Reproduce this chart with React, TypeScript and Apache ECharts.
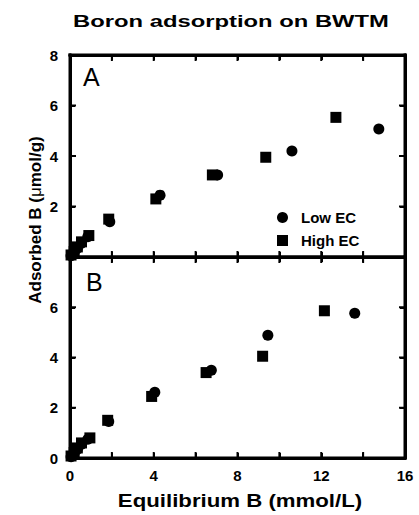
import React, { useEffect, useRef } from "react";
import * as echarts from "echarts";

const xTicks = { min: 0, max: 16, interval: 2 };
const yTicks = { min: 0, max: 8, interval: 2 };

// Panel A
const lowEC_A: [number, number][] = [
  [0.05, 0.05], [0.2, 0.2], [0.35, 0.35], [0.55, 0.55], [0.85, 0.8],
  [1.9, 1.4], [4.3, 2.45], [7.05, 3.25], [10.6, 4.2], [14.75, 5.07],
];
const highEC_A: [number, number][] = [
  [0.05, 0.08], [0.2, 0.22], [0.35, 0.4], [0.55, 0.6], [0.9, 0.85],
  [1.85, 1.5], [4.1, 2.3], [6.8, 3.25], [9.35, 3.95], [12.7, 5.53],
];
// Panel B
const lowEC_B: [number, number][] = [
  [0.05, 0.05], [0.2, 0.2], [0.35, 0.35], [0.55, 0.55], [0.85, 0.75],
  [1.85, 1.45], [4.05, 2.62], [6.75, 3.49], [9.45, 4.89], [13.6, 5.76],
];
const highEC_B: [number, number][] = [
  [0.05, 0.08], [0.2, 0.22], [0.35, 0.4], [0.55, 0.6], [0.95, 0.8],
  [1.8, 1.5], [3.9, 2.45], [6.5, 3.4], [9.2, 4.05], [12.15, 5.86],
];

const FONT = '"Liberation Sans", Arial, Helvetica, sans-serif';

function tickValues(t: { min: number; max: number; interval: number }) {
  const out: number[] = [];
  for (let v = t.min; v <= t.max + 1e-9; v += t.interval) out.push(v);
  return out;
}

// frame + tick rectangles (filled), positioned through the grid's scales
function frameRects(coord: (p: [number, number]) => number[]) {
  const lb = coord([xTicks.min, yTicks.min]);
  const rt = coord([xTicks.max, yTicks.max]);
  const r = (x: number, y: number, w: number, h: number) => ({
    type: "rect", shape: { x, y, width: w, height: h }, style: { fill: "#000" },
  });
  const out: any[] = [
    r(lb[0] - 1.5, rt[1] - 1.5, rt[0] - lb[0] + 3, 3),
    r(lb[0] - 1.5, lb[1] - 1.5, rt[0] - lb[0] + 3, 3),
    r(lb[0] - 1.5, rt[1] - 1.5, 3, lb[1] - rt[1] + 3),
    r(rt[0] - 1.5, rt[1] - 1.5, 3, lb[1] - rt[1] + 3),
  ];
  tickValues(xTicks).forEach((v) => {
    const px = coord([v, yTicks.min])[0];
    out.push(r(px - 1, lb[1] - 6, 2, 6));
    out.push(r(px - 1, rt[1], 2, 6));
  });
  tickValues(yTicks).forEach((v) => {
    const py = coord([xTicks.min, v])[1];
    out.push(r(lb[0], py - 1, 6, 2));
    out.push(r(rt[0] - 6, py - 1, 6, 2));
  });
  return out;
}

export default function App() {
  const ref = useRef<HTMLDivElement>(null);
  useEffect(() => {
    if (!ref.current) return;
    const chart = echarts.init(ref.current, null, { renderer: "svg" });
    const mkLine = () => ({ show: true, onZero: false, lineStyle: { color: "#000", width: 3 } });
    const mkTick = () => ({ show: true, inside: true, length: 5, lineStyle: { color: "#000", width: 2 } });
    const labelStyle = () => ({ color: "#000", fontSize: 15, fontWeight: "bold", fontFamily: FONT });
    const mkX = (grid: number, position: string, showLabel: boolean) => ({
      type: "value", gridIndex: grid, position, min: xTicks.min, max: xTicks.max, interval: xTicks.interval,
      axisLine: mkLine(), axisTick: mkTick(), splitLine: { show: false },
      axisLabel: showLabel
        ? { ...labelStyle(), margin: 10, formatter: (v: number) => (v % 4 === 0 ? String(v) : "") }
        : { show: false },
    });
    const mkY = (grid: number, position: string, showLabel: boolean, hideMin: boolean) => ({
      type: "value", gridIndex: grid, position, min: yTicks.min, max: yTicks.max, interval: yTicks.interval,
      axisLine: mkLine(), axisTick: mkTick(), splitLine: { show: false },
      axisLabel: showLabel
        ? { ...labelStyle(), margin: 12, showMinLabel: !hideMin, showMaxLabel: hideMin }
        : { show: false },
    });
    const scatter = (name: string, symbol: string, data: [number, number][], idx: number) => ({
      type: "scatter", name, symbol, symbolSize: 11, data,
      xAxisIndex: idx, yAxisIndex: idx, z: 3,
      itemStyle: { color: "#000", opacity: 1 },
    });
    const frameSeries = (idx: number) => ({
      type: "custom", name: "frame" + idx, silent: true, clip: false, z: 4,
      xAxisIndex: idx, yAxisIndex: idx,
      data: [[xTicks.min, yTicks.min]],
      renderItem: (_p: any, api: any) => ({ type: "group", children: frameRects((p) => api.coord(p)) }),
    });
    chart.setOption({
      animation: false,
      legend: {
        data: [
          { name: "Low EC", icon: "circle", itemStyle: { color: "#000", opacity: 1 } },
          { name: "High EC", icon: "rect", itemStyle: { color: "#000", opacity: 1 } },
        ],
        orient: "vertical", left: 277, top: 210, padding: 0,
        itemWidth: 11, itemHeight: 11, itemGap: 8,
        textStyle: { color: "#000", fontSize: 15, fontWeight: "bold", fontFamily: FONT, lineHeight: 14, padding: [0, 0, 0, 8] },
      },
      grid: [
        { left: 70, top: 55, width: 335, height: 202 },
        { left: 70, top: 257, width: 335, height: 201 },
      ],
      xAxis: [
        mkX(0, "bottom", false),
        mkX(0, "top", false),
        mkX(1, "bottom", true),
        mkX(1, "top", false),
      ],
      yAxis: [
        mkY(0, "left", true, true),
        mkY(0, "right", false, false),
        mkY(1, "left", true, false),
        mkY(1, "right", false, false),
      ],
      series: [
        frameSeries(0),
        frameSeries(2),
        scatter("Low EC", "circle", lowEC_A, 0),
        scatter("High EC", "rect", highEC_A, 0),
        scatter("Low EC", "circle", lowEC_B, 2),
        scatter("High EC", "rect", highEC_B, 2),
      ],
      graphic: [
        {
          type: "text", x: 231, y: 21, scaleX: 1.4, z: 5,
          style: {
            text: "Boron adsorption on BWTM", align: "center", verticalAlign: "middle",
            fill: "#000", fontSize: 17, fontWeight: "bold", fontFamily: FONT,
          },
        },
        {
          type: "text", x: 240, y: 500, scaleX: 1.17, z: 5,
          style: {
            text: "Equilibrium B (mmol/L)", align: "center", verticalAlign: "middle",
            fill: "#000", fontSize: 19, fontWeight: "bold", fontFamily: FONT,
          },
        },
        {
          type: "text", x: 35, y: 220, rotation: Math.PI / 2, z: 5,
          style: {
            text: "{b|Adsorbed B (}{m|μ}{b|mol/g)}",
            align: "center", verticalAlign: "middle",
            rich: {
              b: { fill: "#000", fontSize: 17, fontWeight: "bold", fontFamily: FONT },
              m: { fill: "#000", fontSize: 17, fontWeight: "normal", fontFamily: FONT },
            },
          },
        },
        { type: "text", left: 83, top: 64, z: 5, style: { text: "A", fill: "#000", fontSize: 25, fontFamily: FONT } },
        { type: "text", left: 86, top: 269, z: 5, style: { text: "B", fill: "#000", fontSize: 25, fontFamily: FONT } },
      ],
    });
    return () => chart.dispose();
  }, []);
  return <div ref={ref} style={{ position: "fixed", left: 0, top: 0, width: 419, height: 515, background: "#fff" }} />;
}
